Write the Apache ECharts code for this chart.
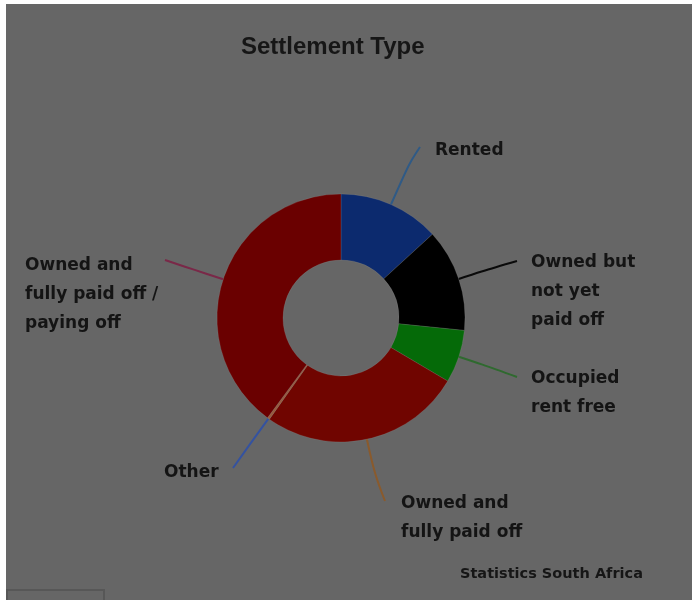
<!DOCTYPE html>
<html>
<head>
<meta charset="utf-8">
<script src="https://cdn.jsdelivr.net/npm/echarts@6/dist/echarts.min.js"></script>
<style>
  html, body { margin: 0; padding: 0; background: #ffffff; }
  #chart { width: 692px; height: 600px; }
</style>
</head>
<body>
<div id="chart"></div>
<script>
// Settlement type shares (percent), clockwise from twelve o'clock
const categories = [
  'Rented',
  'Owned but not yet paid off',
  'Occupied rent free',
  'Owned and fully paid off',
  'Other',
  'Owned and fully paid off / paying off'
];
const labelTexts = [
  'Rented',
  'Owned but\nnot yet\npaid off',
  'Occupied\nrent free',
  'Owned and\nfully paid off',
  'Other',
  'Owned and\nfully paid off /\npaying off'
];
const shares = [13.2, 13.4, 6.9, 26.3, 0.3, 39.9];

const sliceColors = ['#0c2a6e', '#000000', '#056a08', '#700500', '#9a5a3c', '#6a0000'];
const leaderColors = ['#2f5a86', '#0a0a0a', '#2f6a2f', '#8a5a2c', '#3452a0', '#7a2848'];

// Where each label block sits (top-left) and where its leader line ends
const CX = 341, CY = 318;
const labelPlacement = [
  { x: 435, y: 136, end: [420, 147], bend: 45 },
  { x: 531, y: 248, end: [517, 261], bend: 25 },
  { x: 531, y: 364, end: [517, 377], bend: 25 },
  { x: 401, y: 489, end: [385, 501], bend: 35 },
  { x: 164, y: 458, end: [233, 468], bend: 30 },
  { x: 25,  y: 251, end: [165, 260], bend: 30 }
];

const chart = echarts.init(document.getElementById('chart'), null, { renderer: 'canvas' });

const pieData = categories.map(function (name, i) {
  return {
    name: name,
    value: shares[i],
    itemStyle: { color: sliceColors[i] },
    labelLine: { lineStyle: { color: leaderColors[i] } }
  };
});

chart.setOption({
  backgroundColor: '#666666',
  animation: false,
  title: {
    text: 'Settlement Type',
    left: 236,
    top: 30,
    textStyle: {
      fontFamily: 'Liberation Sans',
      fontWeight: 'bold',
      fontSize: 24,
      color: '#161616'
    }
  },
  graphic: [
    { type: 'rect', shape: { x: 0, y: 0, width: 6, height: 600 }, style: { fill: '#ffffff' } },
    { type: 'rect', shape: { x: 0, y: 0, width: 692, height: 4 }, style: { fill: '#ffffff' } },
    { type: 'rect', shape: { x: 7, y: 590, width: 97, height: 20 }, style: { fill: 'none', stroke: '#575757', lineWidth: 2 } },
    {
      type: 'text',
      left: 460,
      top: 567,
      style: {
        text: 'Statistics South Africa',
        fontFamily: 'DejaVu Sans',
        fontWeight: 'bold',
        fontSize: 14.5,
        fill: '#161616'
      }
    }
  ],
  series: [{
    type: 'pie',
    center: [CX, CY],
    radius: [58, 124],
    startAngle: 90,
    clockwise: true,
    avoidLabelOverlap: false,
    data: pieData,
    itemStyle: { borderColor: 'rgba(150,150,150,0.35)', borderWidth: 0.6 },
    label: {
      show: true,
      position: 'outside',
      formatter: function (p) { return labelTexts[p.dataIndex]; },
      color: '#141414',
      fontFamily: 'DejaVu Sans',
      fontWeight: 'bold',
      fontSize: 17,
      lineHeight: 29
    },
    labelLine: {
      show: true,
      smooth: 0.4,
      length: 20,
      length2: 20,
      lineStyle: { width: 2 }
    },
    labelLayout: function (params) {
      const p = labelPlacement[params.dataIndex];
      const out = { x: p.x, y: p.y, align: 'left', verticalAlign: 'top' };
      const pts = params.labelLinePoints;
      if (pts && pts.length) {
        const start = pts[0];
        const dx = start[0] - CX, dy = start[1] - CY;
        const len = Math.sqrt(dx * dx + dy * dy) || 1;
        const mid = [start[0] + dx / len * p.bend, start[1] + dy / len * p.bend];
        out.labelLinePoints = [start, mid, p.end];
      }
      return out;
    }
  }]
});
</script>
</body>
</html>
